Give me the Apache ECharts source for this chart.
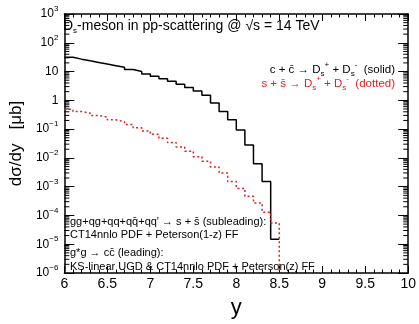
<!DOCTYPE html>
<html>
  <head>
    <meta charset="utf-8" />
    <script src="https://cdn.jsdelivr.net/npm/echarts@6.0.0/dist/echarts.min.js"></script>
  </head>
  <body style="margin: 0">
    <div id="main" style="width: 419px; height: 324px"></div>

    <script type="text/javascript">
      // bin edges in rapidity y (bin width 0.1)
      const binEdges = [
        6.0, 6.1, 6.2, 6.3, 6.4, 6.5, 6.6, 6.7, 6.8, 6.9, 7.0, 7.1, 7.2,
        7.3, 7.4, 7.5, 7.6, 7.7, 7.8, 7.9, 8.0, 8.1, 8.2, 8.3, 8.4, 8.5,
      ];
      // c + cbar -> Ds+ Ds- (solid), one value per bin
      const ccbarValues = [
        31.6, 27, 23.6, 20.8, 18.2, 16, 14, 11.7, 10, 8.3, 6.9, 5.6, 4.6,
        3.6, 2.8, 2.1, 1.5, 0.8, 0.41, 0.21, 0.093, 0.028, 0.0062, 0.0015,
        1.5e-5,
      ];
      // s + sbar -> Ds+ Ds- (dotted)
      const ssbarValues = [
        0.49, 0.41, 0.36, 0.3, 0.26, 0.21, 0.18, 0.144, 0.111, 0.086, 0.066,
        0.048, 0.034, 0.024, 0.017, 0.011, 0.0077, 0.0048, 0.003, 0.0015,
        8.7e-4, 4.6e-4, 2.7e-4, 1.3e-4, 5.5e-5,
      ];

      const xMin = 6, xMax = 10;
      const yMin = 1e-6, yMax = 1e3;

      // turn bin values into step points (left edges + closing right edge)
      function stepData(vals, dropToFloor) {
        const pts = vals.map((v, i) => [binEdges[i], v]);
        pts.push([binEdges[vals.length], vals[vals.length - 1]]);
        if (dropToFloor) pts.push([binEdges[vals.length], yMin]);
        return pts;
      }

      // ROOT-style minor ticks at 2..9 x 10^n
      const logMinor = [];
      for (let n = -6; n < 3; n++) {
        for (let m = 2; m <= 9; m++) logMinor.push([xMin, m * Math.pow(10, n)]);
      }

      const font = "Liberation Sans";
      const supStyle = { fontSize: 8, fontFamily: font, verticalAlign: "top", lineHeight: 17 };
      const subStyle = { fontSize: 8, fontFamily: font, verticalAlign: "bottom", lineHeight: 17 };

      const tickFmt = function (v) {
        const e = Math.round(Math.log10(v));
        if (e === 0) return "1";
        if (e === 1) return "10";
        return "10{sup|" + (e < 0 ? "\u2212" + -e : e) + "}";
      };

      const blackLine = { show: true, lineStyle: { color: "#000", width: 1.5 } };
      const xTick = { show: true, inside: true, length: 7, lineStyle: { color: "#000", width: 1 } };
      const xMinor = { show: true, splitNumber: 5, length: 3.5, lineStyle: { color: "#000", width: 1 } };
      const yTick = { show: true, inside: true, length: 10, lineStyle: { color: "#000", width: 1 } };

      const option = {
        animation: false,
        grid: { left: 57, right: 6, top: 14, bottom: 46 },
        xAxis: [
          {
            type: "value",
            min: xMin,
            max: xMax,
            interval: 0.5,
            name: "y",
            nameLocation: "middle",
            nameGap: 24,
            nameTextStyle: { fontSize: 22, fontFamily: font, color: "#000" },
            axisLine: blackLine,
            axisTick: xTick,
            minorTick: xMinor,
            axisLabel: { fontSize: 14, fontFamily: font, color: "#000", margin: 4 },
            splitLine: { show: false },
          },
          {
            type: "value",
            position: "top",
            min: xMin,
            max: xMax,
            interval: 0.5,
            axisLine: blackLine,
            axisTick: xTick,
            minorTick: xMinor,
            axisLabel: { show: false },
            splitLine: { show: false },
          },
        ],
        yAxis: [
          {
            type: "log",
            min: yMin,
            max: yMax,
            name: "d\u03c3/dy   [\u03bcb]",
            nameLocation: "middle",
            nameGap: 37,
            nameTextStyle: { fontSize: 17, fontFamily: font, color: "#000" },
            axisLine: blackLine,
            axisTick: yTick,
            axisLabel: {
              formatter: tickFmt,
              fontSize: 12,
              fontFamily: font,
              color: "#000",
              margin: 6,
              rich: { sup: { fontSize: 8, fontFamily: font, verticalAlign: "top", lineHeight: 18 } },
            },
            splitLine: { show: false },
          },
          {
            type: "log",
            position: "right",
            min: yMin,
            max: yMax,
            axisLine: blackLine,
            axisTick: yTick,
            axisLabel: { show: false },
            splitLine: { show: false },
          },
        ],
        graphic: [
          {
            type: "text",
            left: 63,
            top: 19,
            z: 100,
            style: {
              text: "{m|D}{sub|s}{m|-meson in pp-scattering @ \u221as = 14 TeV}",
              font: "14px " + font,
              fill: "#000",
              rich: {
                m: { fontSize: 14, fontFamily: font, color: "#000", lineHeight: 17 },
                sub: subStyle,
              },
            },
          },
          {
            type: "text",
            right: 24,
            top: 61,
            style: {
              text: "c + c\u0304 \u2192 D{sub|s}{sup|+} + D{sub|s}{sup|-}  (solid)",
              font: "11.5px " + font,
              fill: "#000",
              rich: { sub: subStyle, sup: supStyle },
            },
          },
          {
            type: "text",
            right: 24,
            top: 75,
            style: {
              text: "s + s\u0304 \u2192 D{sub|s}{sup|+} + D{sub|s}{sup|-}  (dotted)",
              font: "11.5px " + font,
              fill: "#dd2222",
              rich: {
                sub: Object.assign({}, subStyle, { color: "#dd2222" }),
                sup: Object.assign({}, supStyle, { color: "#dd2222" }),
              },
            },
          },
          {
            type: "text",
            left: 70,
            top: 216,
            style: {
              text: "gg+qg+qq+qq\u0304+qq' \u2192 s + s\u0304 (subleading):",
              font: "11px " + font,
              fill: "#000",
            },
          },
          {
            type: "text",
            left: 70,
            top: 229,
            style: { text: "CT14nnlo PDF + Peterson(1-z) FF", font: "11px " + font, fill: "#000" },
          },
          {
            type: "text",
            left: 70,
            top: 247,
            style: { text: "g*g \u2192 cc\u0304 (leading):", font: "11px " + font, fill: "#000" },
          },
          {
            type: "text",
            left: 70,
            top: 261,
            style: {
              text: "KS-linear UGD & CT14nnlo PDF + Peterson(z) FF",
              font: "11px " + font,
              fill: "#000",
            },
          },
        ],
        series: [
          {
            name: "ccbar",
            type: "line",
            step: "end",
            showSymbol: false,
            data: stepData(ccbarValues, false),
            lineStyle: { color: "#000", width: 1.5 },
          },
          {
            name: "ssbar",
            type: "line",
            step: "end",
            showSymbol: false,
            data: stepData(ssbarValues, true),
            lineStyle: { color: "#dd2222", width: 1.5, type: [2, 2.5] },
          },
          {
            name: "logMinorTicks",
            type: "custom",
            silent: true,
            clip: false,
            dimensions: ["x", "v"],
            data: logMinor,
            encode: { x: 0, y: 1 },
            renderItem: function (params, api) {
              const v = api.value(1);
              const pl = api.coord([xMin, v]);
              const pr = api.coord([xMax, v]);
              const st = { stroke: "#000", lineWidth: 1 };
              return {
                type: "group",
                children: [
                  { type: "line", shape: { x1: pl[0], y1: pl[1], x2: pl[0] + 5, y2: pl[1] }, style: st },
                  { type: "line", shape: { x1: pr[0], y1: pr[1], x2: pr[0] - 5, y2: pr[1] }, style: st },
                ],
              };
            },
          },
        ],
      };

      const myChart = echarts.init(document.getElementById("main"));
      myChart.setOption(option);
    </script>
  </body>
</html>
